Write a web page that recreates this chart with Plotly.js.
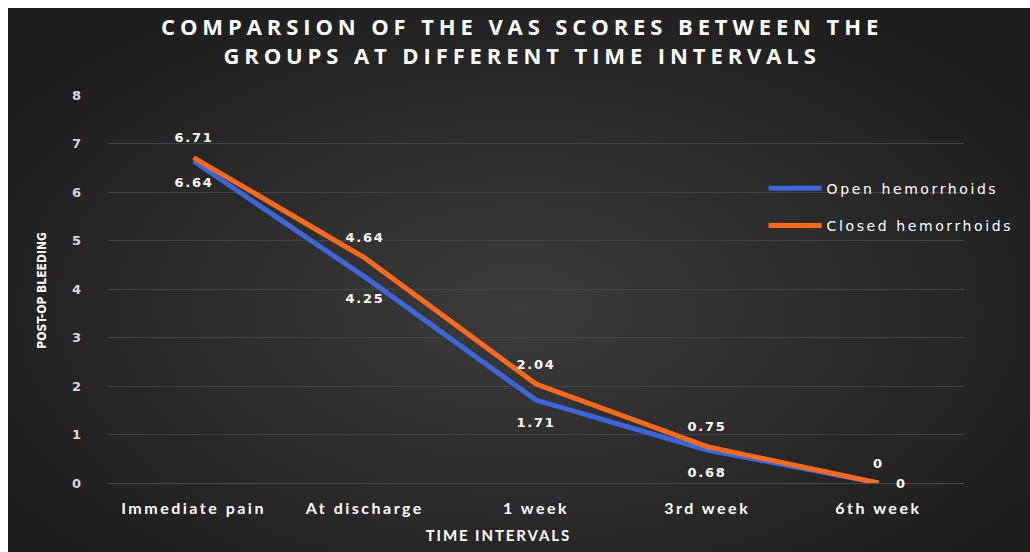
<!DOCTYPE html>
<html>
<head>
<meta charset="utf-8">
<script src="https://cdn.plot.ly/plotly-3.0.1.min.js"></script>
<style>
  html, body { margin:0; padding:0; background:#ffffff; width:1030px; height:552px; overflow:hidden; }
  #chart { position:absolute; left:8px; top:8px; width:1022px; height:544px;
    background: radial-gradient(ellipse 60% 65% at 50% 55%, #3b3b3b 0%, #2e2e2e 45%, #232323 80%, #1d1d1d 100%); }
  .gtitle { letter-spacing: 4.9px; }
  .annotation-text.lbl { letter-spacing: 1.8px; }
  .annotation-text.xt { letter-spacing: 1.9px; }
  .legendtext { letter-spacing: 2.6px; }
  .xtick text { letter-spacing: 2.5px; }
</style>
</head>
<body>
<div id="chart"></div>
<script>
const categories = ["Immediate pain", "At discharge", "1 week", "3rd week", "6th week"];
const openValues = [6.64, 4.25, 1.71, 0.68, 0];
const closedValues = [6.71, 4.64, 2.04, 0.75, 0];
const seriesNames = ["Open hemorrhoids", "Closed hemorrhoids"];
const yTicks = [0, 1, 2, 3, 4, 5, 6, 7, 8];

const blue = "#3b66d6";
const orange = "#f7691d";

const traces = [
  { type: "scatter", mode: "lines", x: categories, y: openValues, name: seriesNames[0],
    line: { color: blue, width: 5 }, legendgroup: "a", hoverinfo: "x+y" },
  { type: "scatter", mode: "lines", x: categories, y: closedValues, name: seriesNames[1],
    line: { color: orange, width: 5 }, legendgroup: "b", hoverinfo: "x+y" }
];

const lblFont = { family: "DejaVu Sans", size: 13, color: "#ffffff", weight: "bold" };
const annotations = [];
closedValues.forEach((v, i) => {
  annotations.push({ x: categories[i], y: v, text: String(v), showarrow: false,
    yshift: 20, font: lblFont });
});
openValues.forEach((v, i) => {
  const last = i === openValues.length - 1;
  annotations.push({ x: categories[i], y: v, text: String(v), showarrow: false,
    yshift: last ? 0 : -22, xshift: last ? 23 : 0, font: lblFont });
});
annotations.push({ xref: "paper", yref: "paper", x: -0.087, y: 0.497, textangle: -90,
  text: "POST-OP BLEEDING", showarrow: false,
  font: { family: "DejaVu Sans Condensed, Roboto Condensed, Roboto, sans-serif", size: 12, color: "#ffffff", weight: "bold" } });
annotations.push({ xref: "paper", yref: "paper", x: 0.456, y: -0.163,
  text: "TIME INTERVALS", showarrow: false,
  font: { family: "Lato", size: 15, color: "#ffffff", weight: "bold" } });

const layout = {
  width: 1022, height: 544,
  paper_bgcolor: "rgba(0,0,0,0)", plot_bgcolor: "rgba(0,0,0,0)",
  margin: { l: 100, r: 65, t: 87, b: 69 },
  title: { text: "COMPARSION OF THE VAS SCORES BETWEEN THE<br>GROUPS AT DIFFERENT TIME INTERVALS",
    x: 0.503, xanchor: "center", y: 0.95, yanchor: "middle", yref: "container",
    font: { family: "Open Sans", size: 22, color: "#ffffff", weight: "bold" } },
  xaxis: { type: "category", range: [-0.5, 4.5], showgrid: false, zeroline: false,
    showline: false, ticks: "", ticklabelstandoff: 14,
    tickfont: { family: "Lato", size: 16, color: "#ffffff", weight: "bold" } },
  yaxis: { range: [0, 8], tickvals: yTicks, showgrid: true, gridcolor: "#444444", gridwidth: 1,
    zeroline: true, zerolinecolor: "#4a4a4a", zerolinewidth: 1, showline: false, ticks: "",
    ticklabelstandoff: 26,
    tickfont: { family: "DejaVu Sans", size: 13, color: "#d9d9d9", weight: "bold" } },
  showlegend: true,
  legend: { x: 0.765, y: 0.80, xanchor: "left", yanchor: "top", bgcolor: "rgba(0,0,0,0)",
    traceorder: "grouped", tracegroupgap: 16, itemwidth: 53,
    font: { family: "DejaVu Sans", size: 14, color: "#ffffff" } },
  annotations: annotations
};

Plotly.newPlot("chart", traces, layout, { displayModeBar: false }).then(() => {
  const els = document.querySelectorAll(".annotation-text");
  const nLbl = closedValues.length + openValues.length;
  els.forEach((el, i) => {
    if (i < nLbl) el.classList.add("lbl");
    else if (i === nLbl + 1) el.classList.add("xt");
  });
});
</script>
</body>
</html>
